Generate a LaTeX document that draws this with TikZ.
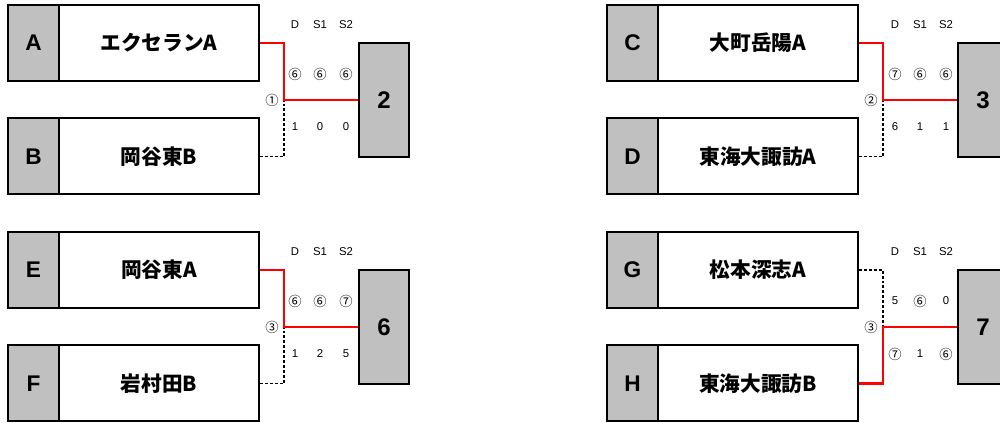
\documentclass[tikz,border=0pt]{standalone}
\usepackage{fontspec}
\setmainfont{Liberation Sans}
\newfontfamily\jp{Noto Sans CJK JP}
\definecolor{cellgray}{HTML}{C0C0C0}
\definecolor{winred}{HTML}{FF0000}
\tikzset{
  lettercell/.style={draw=black, line width=1.5pt, fill=cellgray, minimum width=38.25pt, minimum height=57pt, inner sep=0pt, font=\fontsize{17}{17}\selectfont\bfseries},
  namecell/.style={draw=black, line width=1.5pt, fill=white, minimum width=150pt, minimum height=57pt, inner sep=0pt, font=\jp\fontsize{15.5}{15.5}\selectfont\bfseries},
  winbox/.style={draw=black, line width=1.5pt, fill=cellgray, minimum width=37.5pt, minimum height=85.5pt, inner sep=0pt, font=\fontsize{18}{18}\selectfont\bfseries},
  winline/.style={draw=winred, line width=2.1pt},
  loseline/.style={draw=black, line width=1pt, dash pattern=on 2.2pt off 1.5pt},
  hdr/.style={font=\fontsize{8.5}{8.5}\selectfont, inner sep=0pt},
  score/.style={font=\fontsize{8.5}{8.5}\selectfont, inner sep=0pt},
  circ/.style={font=\jp\fontsize{10}{10}\selectfont, inner sep=0pt},
}
\begin{document}
\begin{tikzpicture}[x=0.75pt, y=-0.75pt]
\useasboundingbox (0,0) rectangle (1000,423);
% ---------- match 1 (top left) ----------
\node[lettercell] (lA) at (33.5,43) {A};
\node[namecell]   (nA) at (159,43) {エクセランA};
\node[lettercell] (lB) at (33.5,156.5) {B};
\node[namecell]   (nB) at (159,156.5) {岡谷東B};
\node[winbox]     (w1) at (384,100) {2};
\coordinate (j1) at (284,100);
\draw[loseline] (nB.east) -| (j1);
\draw[winline] (nA.east) -| (j1) -- (w1.west);
\node[hdr] (h1d) at (295,25) {D};
\node[hdr] (h1a) at (320,25) {S1};
\node[hdr] (h1b) at (346,25) {S2};
\node[circ] (s1a) at (295,74) {⑥};
\node[circ] (s1b) at (320,74) {⑥};
\node[circ] (s1c) at (346,74) {⑥};
\node[score] (s1d) at (295,127) {1};
\node[score] (s1e) at (320,127) {0};
\node[score] (s1f) at (346,127) {0};
\node[circ] (m1) at (272,100) {①};
% ---------- match 2 (top right) ----------
\node[lettercell] (lC) at (632.5,43) {C};
\node[namecell]   (nC) at (758,43) {大町岳陽A};
\node[lettercell] (lD) at (632.5,156.5) {D};
\node[namecell]   (nD) at (758,156.5) {東海大諏訪A};
\node[winbox]     (w2) at (983,100) {3};
\coordinate (j2) at (883,100);
\draw[loseline] (nD.east) -| (j2);
\draw[winline] (nC.east) -| (j2) -- (w2.west);
\node[hdr] (h2d) at (895,25) {D};
\node[hdr] (h2a) at (920,25) {S1};
\node[hdr] (h2b) at (946,25) {S2};
\node[circ] (s2a) at (895,74) {⑦};
\node[circ] (s2b) at (920,74) {⑥};
\node[circ] (s2c) at (946,74) {⑥};
\node[score] (s2d) at (895,127) {6};
\node[score] (s2e) at (920,127) {1};
\node[score] (s2f) at (946,127) {1};
\node[circ] (m2) at (871,100) {②};
% ---------- match 3 (bottom left) ----------
\node[lettercell] (lE) at (33.5,270) {E};
\node[namecell]   (nE) at (159,270) {岡谷東A};
\node[lettercell] (lF) at (33.5,383.5) {F};
\node[namecell]   (nF) at (159,383.5) {岩村田B};
\node[winbox]     (w3) at (384,327) {6};
\coordinate (j3) at (284,327);
\draw[loseline] (nF.east) -| (j3);
\draw[winline] (nE.east) -| (j3) -- (w3.west);
\node[hdr] (h3d) at (295,252) {D};
\node[hdr] (h3a) at (320,252) {S1};
\node[hdr] (h3b) at (346,252) {S2};
\node[circ] (s3a) at (295,301) {⑥};
\node[circ] (s3b) at (320,301) {⑥};
\node[circ] (s3c) at (346,301) {⑦};
\node[score] (s3d) at (295,354) {1};
\node[score] (s3e) at (320,354) {2};
\node[score] (s3f) at (346,354) {5};
\node[circ] (m3) at (272,327) {③};
% ---------- match 4 (bottom right) ----------
\node[lettercell] (lG) at (632.5,270) {G};
\node[namecell]   (nG) at (758,270) {松本深志A};
\node[lettercell] (lH) at (632.5,383.5) {H};
\node[namecell]   (nH) at (758,383.5) {東海大諏訪B};
\node[winbox]     (w4) at (983,327) {7};
\coordinate (j4) at (883,327);
\draw[loseline] (nG.east) -| (j4);
\draw[winline] (nH.east) -| (j4) -- (w4.west);
\node[hdr] (h4d) at (895,252) {D};
\node[hdr] (h4a) at (920,252) {S1};
\node[hdr] (h4b) at (946,252) {S2};
\node[score] (s4a) at (895,301) {5};
\node[circ] (s4b) at (920,301) {⑥};
\node[score] (s4c) at (946,301) {0};
\node[circ] (s4d) at (895,354) {⑦};
\node[score] (s4e) at (920,354) {1};
\node[circ] (s4f) at (946,354) {⑥};
\node[circ] (m4) at (871,327) {③};
\end{tikzpicture}
\end{document}
